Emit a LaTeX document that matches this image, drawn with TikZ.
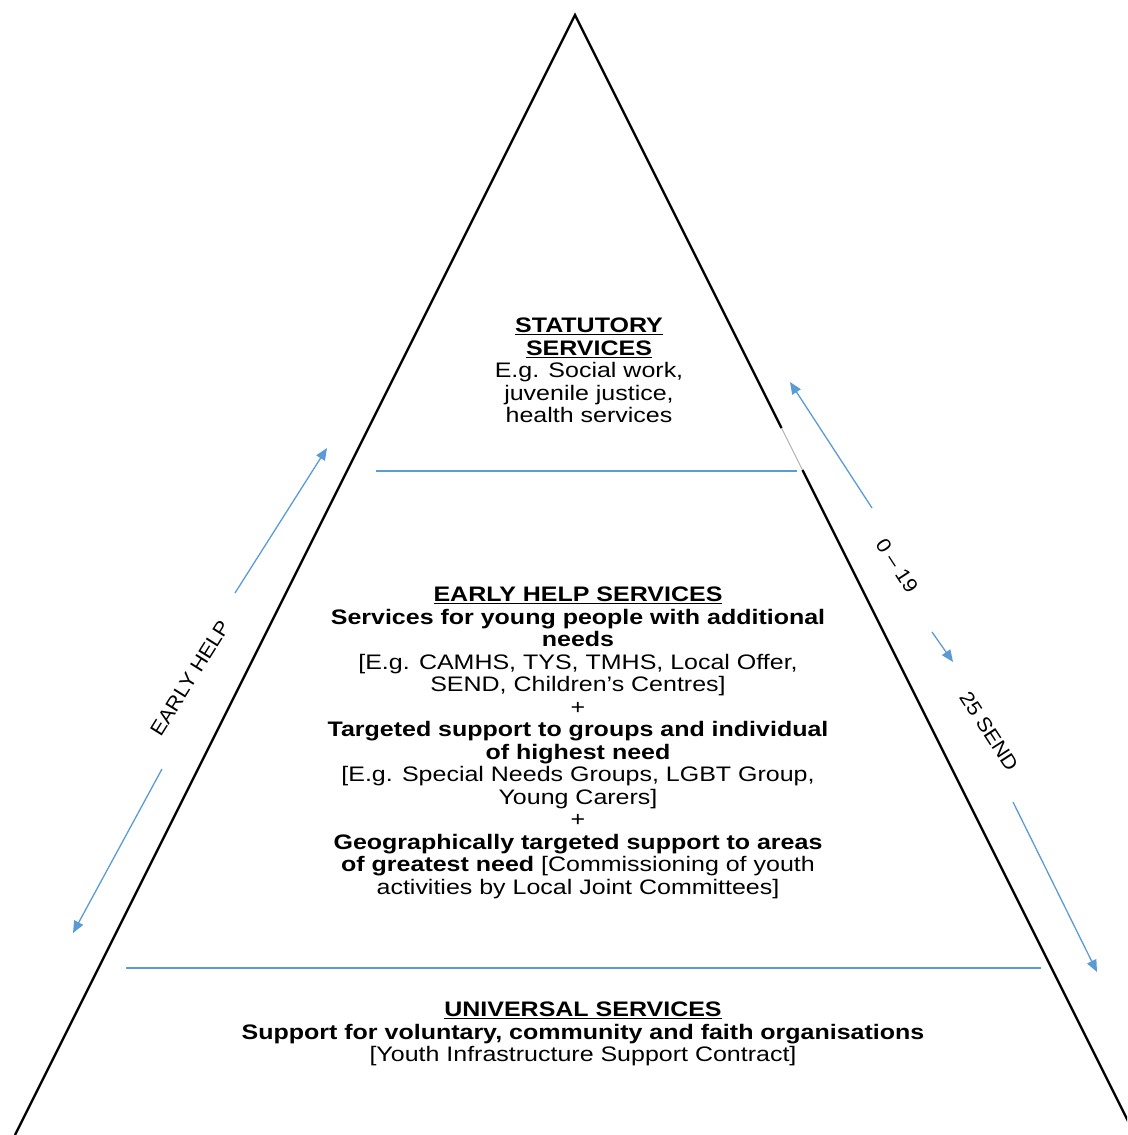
\documentclass[tikz,border=0pt]{standalone}
\usepackage{fontspec}
\setmainfont{Liberation Sans}[FakeStretch=1.19]
\newfontfamily\sidefont{Liberation Sans}[FakeStretch=1.08]
\usetikzlibrary{arrows.meta}
\definecolor{arrowblue}{RGB}{91,155,213}
\begin{document}
\begin{tikzpicture}[x=1pt,y=-1pt,
  edge/.style={line width=2.4pt, line join=miter},
  faint/.style={line width=1pt, draw=black!30},
  divider/.style={draw=arrowblue, line width=1.4pt},
  arr/.style={draw=arrowblue, line width=1.3pt, -{Triangle[length=12pt,width=10pt]}},
  body/.style={align=center, inner sep=0pt, font=\fontsize{21}{22.5}\selectfont},
  side/.style={inner sep=0pt, font=\sidefont\fontsize{20}{22}\selectfont}]
\useasboundingbox (0,0) rectangle (1127,1135);
\begin{scope}
\clip (0,0) rectangle (1127,1135);
% triangle
\coordinate (apex) at (575,15);
\coordinate (bl) at (15,1135);
\coordinate (br) at (1135,1135);
\coordinate (g1) at (781.5,428);
\coordinate (g2) at (802.5,470);
\draw[edge] (bl) -- (apex) -- (g1);
\draw[faint] (g1) -- (g2);
\draw[edge] (g2) -- (br);
% dividers
\coordinate (d1a) at (376,471);
\coordinate (d1b) at (797,471);
\coordinate (d2a) at (126,968);
\coordinate (d2b) at (1041,968);
\draw[divider] (d1a) -- (d1b);
\draw[divider] (d2a) -- (d2b);
% arrows
\coordinate (a1t) at (235,593); \coordinate (a1h) at (327,448);
\coordinate (a2t) at (162,769); \coordinate (a2h) at (73,933);
\coordinate (a3t) at (872,508); \coordinate (a3h) at (790,382);
\coordinate (a4t) at (932,632); \coordinate (a4h) at (953,662);
\coordinate (a5t) at (1013,802); \coordinate (a5h) at (1097,972);
\draw[arr] (a1t) -- (a1h);
\draw[arr] (a2t) -- (a2h);
\draw[arr] (a3t) -- (a3h);
\draw[arr] (a4t) -- (a4h);
\draw[arr] (a5t) -- (a5h);
\end{scope}
% side labels
\node[side, rotate=58] (eh) at (190,678) {EARLY HELP};
\node[side, rotate=-57] (age) at (897,566) {0 – 19};
\node[side, rotate=-57] (send) at (989,731) {25 SEND};
% text blocks
\node[body, anchor=north] (stat) at (589,318) {\underline{\textbf{STATUTORY}}\\
\underline{\textbf{SERVICES}}\\
E.g. Social work,\\
juvenile justice,\\
health services};
\node[body, anchor=north] (early) at (578,587) {\underline{\textbf{EARLY HELP SERVICES}}\\
\textbf{Services for young people with additional}\\
\textbf{needs}\\
{[}E.g. CAMHS, TYS, TMHS, Local Offer,\\
SEND, Children’s Centres]\\
+\\
\textbf{Targeted support to groups and individual}\\
\textbf{of highest need}\\
{[}E.g. Special Needs Groups, LGBT Group,\\
Young Carers]\\
+\\
\textbf{Geographically targeted support to areas}\\
\textbf{of greatest need} [Commissioning of youth\\
activities by Local Joint Committees]};
\node[body, anchor=north] (univ) at (583,1002) {\underline{\textbf{UNIVERSAL SERVICES}}\\
\textbf{Support for voluntary, community and faith organisations}\\
{[}Youth Infrastructure Support Contract]};
\end{tikzpicture}
\end{document}
